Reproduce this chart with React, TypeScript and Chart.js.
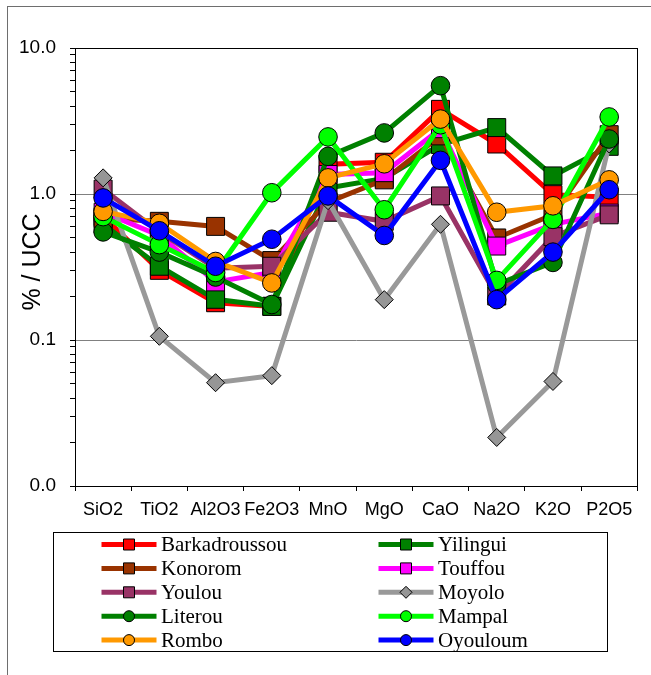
import React, { useEffect, useRef } from "react";
import { Chart, registerables } from "chart.js";

Chart.register(...registerables);

const categories = ["SiO2", "TiO2", "Al2O3", "Fe2O3", "MnO", "MgO", "CaO", "Na2O", "K2O", "P2O5"];

const barkadroussou = [0.70, 0.30, 0.18, 0.17, 1.60, 1.65, 3.80, 2.20, 0.99, 0.95];
const yilingui = [0.62, 0.32, 0.19, 0.17, 1.10, 1.28, 2.18, 2.85, 1.33, 2.12];
const konorom = [0.68, 0.65, 0.60, 0.35, 0.88, 1.25, 2.50, 0.50, 0.72, 2.55];
const touffou = [0.75, 0.52, 0.25, 0.29, 1.36, 1.40, 2.80, 0.44, 0.62, 0.74];
const youlou = [1.08, 0.55, 0.31, 0.32, 0.75, 0.65, 0.97, 0.20, 0.51, 0.72];
const moyolo = [1.29, 0.106, 0.051, 0.057, 0.90, 0.189, 0.62, 0.0215, 0.052, 2.2];
const literou = [0.55, 0.40, 0.27, 0.175, 1.81, 2.62, 5.52, 0.24, 0.34, 2.38];
const mampal = [0.70, 0.45, 0.29, 1.02, 2.46, 0.78, 2.98, 0.256, 0.67, 3.37];
const rombo = [0.76, 0.63, 0.345, 0.246, 1.29, 1.61, 3.26, 0.75, 0.83, 1.25];
const oyouloum = [0.94, 0.56, 0.32, 0.49, 0.97, 0.52, 1.70, 0.189, 0.40, 1.07];

const seriesNames = ["Barkadroussou", "Yilingui", "Konorom", "Touffou", "Youlou", "Moyolo", "Literou", "Mampal", "Rombo", "Oyouloum"];
const seriesValues = [barkadroussou, yilingui, konorom, touffou, youlou, moyolo, literou, mampal, rombo, oyouloum];
const seriesColors = ["#FF0000", "#008000", "#993300", "#FF00FF", "#993366", "#999999", "#008000", "#00FF00", "#FF9900", "#0000FF"];
const seriesFill = ["#FF0000", "#008000", "#993300", "#FF00FF", "#993366", "#969696", "#008000", "#00FF00", "#FF9900", "#0000FF"];
const seriesMarkers = ["rect", "rect", "rect", "rect", "rect", "rectRot", "circle", "circle", "circle", "circle"];

const yMajorTicks = [0.01, 0.1, 1, 10];
const yTickLabels = ["0.0", "0.1", "1.0", "10.0"];
const yGridValues = [0.1, 1];
const yTitle = "% / UCC";

const SANS = "\"Liberation Sans\", Arial, sans-serif";
const SERIF = "\"Liberation Serif\", \"Times New Roman\", Times, \"DejaVu Serif\", serif";

function markerRadius(style: string) {
  if (style === "rect") return 12.7;
  if (style === "rectRot") return 9;
  return 9.3;
}

const decorPlugin = {
  id: "decor",
  beforeDraw(chart: any) {
    const ctx = chart.ctx;
    ctx.save();
    ctx.fillStyle = "#fff";
    ctx.fillRect(0, 0, chart.width, chart.height);
    ctx.strokeStyle = "#6e6e6e";
    ctx.lineWidth = 1;
    ctx.strokeRect(7.5, 6.5, chart.width + 10, chart.height + 10);
    ctx.restore();
  },
  afterDatasetsDraw(chart: any) {
    const ctx = chart.ctx;
    const a = chart.chartArea;
    ctx.save();
    ctx.strokeStyle = "#000";
    ctx.lineWidth = 1;
    ctx.strokeRect(Math.round(a.left) + 0.5, Math.round(a.top) + 0.5, Math.round(a.right - a.left), Math.round(a.bottom - a.top));
    ctx.restore();
  },
  afterDraw(chart: any) {
    const ctx = chart.ctx;
    ctx.save();
    ctx.translate(33, 262);
    ctx.rotate(-Math.PI / 2);
    ctx.fillStyle = "#000";
    ctx.font = `25px ${SANS}`;
    ctx.textAlign = "center";
    ctx.textBaseline = "middle";
    ctx.fillText(yTitle, 0, 0);
    ctx.restore();

    ctx.save();
    ctx.strokeStyle = "#000";
    ctx.lineWidth = 1;
    ctx.fillStyle = "#fff";
    ctx.fillRect(53.5, 532.5, 554, 119);
    ctx.strokeRect(53.5, 532.5, 554, 119);
    const colX = [101.5, 378.5];
    const rowY0 = 544.5;
    const rowDy = 23.9;
    chart.data.datasets.forEach((ds: any, i: number) => {
      const col = i % 2;
      const row = Math.floor(i / 2);
      const x0 = colX[col];
      const y = rowY0 + row * rowDy;
      ctx.strokeStyle = ds.borderColor;
      ctx.lineWidth = 5;
      ctx.lineCap = "butt";
      ctx.beginPath();
      ctx.moveTo(x0, y);
      ctx.lineTo(x0 + 55, y);
      ctx.stroke();
      const cx = x0 + 27.5;
      ctx.fillStyle = ds.pointBackgroundColor;
      ctx.strokeStyle = "#000";
      ctx.lineWidth = 1;
      ctx.beginPath();
      if (ds.pointStyle === "rect") {
        ctx.rect(cx - 5.5, y - 5.5, 11, 11);
      } else if (ds.pointStyle === "rectRot") {
        ctx.moveTo(cx, y - 6);
        ctx.lineTo(cx + 6, y);
        ctx.lineTo(cx, y + 6);
        ctx.lineTo(cx - 6, y);
        ctx.closePath();
      } else {
        ctx.arc(cx, y, 5.5, 0, Math.PI * 2);
      }
      ctx.fill();
      ctx.stroke();
      ctx.fillStyle = "#000";
      ctx.font = `21px ${SERIF}`;
      ctx.textAlign = "left";
      ctx.textBaseline = "middle";
      ctx.fillText(ds.label, x0 + 59.5, y + 1);
    });
    ctx.restore();
  },
};

export default function App() {
  const canvasRef = useRef<HTMLCanvasElement | null>(null);

  useEffect(() => {
    const canvas = canvasRef.current;
    if (!canvas) return;

    const datasets = seriesNames.map((name, i) => ({
      label: name,
      data: seriesValues[i],
      borderColor: seriesColors[i],
      backgroundColor: seriesFill[i],
      pointBackgroundColor: seriesFill[i],
      pointBorderColor: "#000",
      pointBorderWidth: 1,
      pointStyle: seriesMarkers[i],
      pointRadius: markerRadius(seriesMarkers[i]),
      pointHoverRadius: markerRadius(seriesMarkers[i]),
      borderWidth: 5,
      tension: 0,
      fill: false,
      order: seriesNames.length - 1 - i,
    }));

    const chart = new Chart(canvas, {
      type: "line",
      data: { labels: categories, datasets },
      options: {
        responsive: false,
        animation: false,
        devicePixelRatio: 1,
        layout: { padding: { left: 0, top: 48, right: 9, bottom: 0 } },
        plugins: {
          legend: { display: false },
          tooltip: { enabled: false },
        },
        scales: {
          x: {
            type: "category",
            offset: true,
            grid: {
              offset: true,
              drawOnChartArea: false,
              color: "rgba(0,0,0,0)",
              tickColor: "#000",
              tickLength: 5,
            },
            border: { display: true, color: "#000", width: 1 },
            ticks: {
              color: "#000",
              font: { family: SANS, size: 18 },
              padding: 8,
              maxRotation: 0,
              minRotation: 0,
              autoSkip: false,
            },
            afterFit: (s: any) => {
              s.height = 675 - 486;
            },
          },
          y: {
            type: "logarithmic",
            min: 0.01,
            max: 10,
            afterBuildTicks: (scale: any) => {
              const ticks: any[] = [];
              for (let d = 0; d < yMajorTicks.length; d++) {
                const base = yMajorTicks[d];
                ticks.push({ value: base, major: true });
                if (d < yMajorTicks.length - 1) {
                  for (let m = 2; m <= 9; m++) ticks.push({ value: base * m, major: false });
                }
              }
              scale.ticks = ticks;
            },
            grid: {
              color: (c: any) =>
                c.tick && yGridValues.some((g) => Math.abs(c.tick.value - g) < 1e-9) ? "#808080" : "rgba(0,0,0,0)",
              tickColor: "#000",
              tickLength: 5,
            },
            border: { display: true, color: "#000", width: 1 },
            ticks: {
              autoSkip: false,
              color: "#000",
              font: { family: SANS, size: 19 },
              padding: 14,
              callback: (v: any) => {
                const idx = yMajorTicks.findIndex((t) => Math.abs(t - Number(v)) < 1e-9);
                return idx >= 0 ? yTickLabels[idx] : "";
              },
            },
            afterFit: (s: any) => {
              s.width = 75;
            },
          },
        },
      },
      plugins: [decorPlugin],
    } as any);

    let alive = true;
    const fontsApi: any = (document as any).fonts;
    if (fontsApi && fontsApi.load) {
      Promise.all([
        fontsApi.load(`21px "Liberation Serif"`),
        fontsApi.load(`18px "Liberation Sans"`),
      ])
        .then(() => {
          if (alive) chart.draw();
        })
        .catch(() => {});
    }

    return () => {
      alive = false;
      chart.destroy();
    };
  }, []);

  return (
    <div style={{ position: "absolute", left: 0, top: 0, width: 651, height: 675, background: "#fff" }}>
      <canvas ref={canvasRef} width={651} height={675} style={{ width: 651, height: 675, display: "block" }} />
    </div>
  );
}
